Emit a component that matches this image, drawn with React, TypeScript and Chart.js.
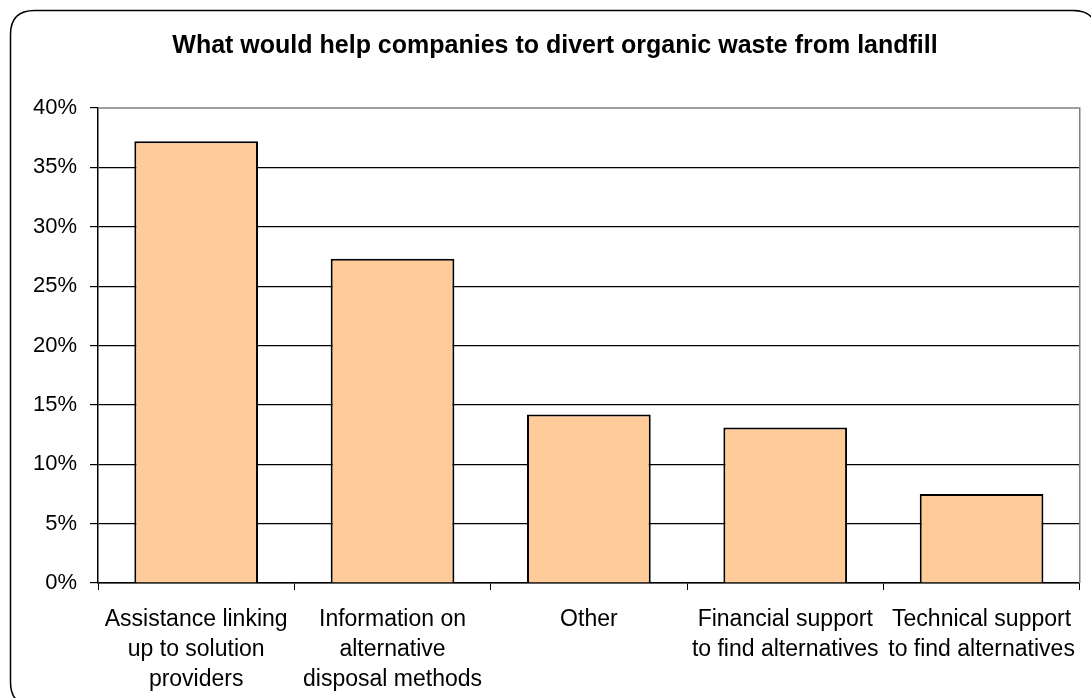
import React, { useEffect, useRef } from "react";
import { Chart, registerables } from "chart.js";

Chart.register(...registerables);

const TITLE = "What would help companies to divert organic waste from landfill";
const CATEGORIES: string[][] = [
  ["Assistance linking", "up to solution", "providers"],
  ["Information on", "alternative", "disposal methods"],
  ["Other"],
  ["Financial support", "to find alternatives"],
  ["Technical support", "to find alternatives"],
];
const VALUES: number[] = [37.2, 27.3, 14.2, 13.1, 7.5];
const Y_MIN = 0;
const Y_MAX = 40;
const Y_STEP = 5;

const FONT = "'Liberation Sans', Arial, Helvetica, sans-serif";

const framePlugin = {
  id: "frame",
  beforeDraw(chart: any) {
    const { ctx, width, height } = chart;
    ctx.save();
    ctx.fillStyle = "#ffffff";
    ctx.fillRect(0, 0, width, height);
    const x = 10.5, y = 10.5, w = width + 6 - x, h = height + 8 - y, r = 24;
    ctx.beginPath();
    ctx.moveTo(x + r, y);
    ctx.lineTo(x + w - r, y);
    ctx.quadraticCurveTo(x + w, y, x + w, y + r);
    ctx.lineTo(x + w, y + h - r);
    ctx.quadraticCurveTo(x + w, y + h, x + w - r, y + h);
    ctx.lineTo(x + r, y + h);
    ctx.quadraticCurveTo(x, y + h, x, y + h - r);
    ctx.lineTo(x, y + r);
    ctx.quadraticCurveTo(x, y, x + r, y);
    ctx.closePath();
    ctx.lineWidth = 1.5;
    ctx.strokeStyle = "#000000";
    ctx.stroke();
    ctx.restore();
  },
  beforeDatasetsDraw(chart: any) {
    const { ctx, chartArea } = chart;
    ctx.save();
    ctx.strokeStyle = "#808080";
    ctx.lineWidth = 1.5;
    ctx.beginPath();
    ctx.moveTo(chartArea.left, chartArea.top);
    ctx.lineTo(chartArea.right, chartArea.top);
    ctx.lineTo(chartArea.right, chartArea.bottom);
    ctx.stroke();
    ctx.restore();
  },
  afterDraw(chart: any) {
    const { ctx } = chart;
    ctx.save();
    ctx.fillStyle = "#000000";
    ctx.font = `bold 25px ${FONT}`;
    ctx.textAlign = "center";
    ctx.textBaseline = "middle";
    ctx.fillText(TITLE, 555, 46);
    ctx.restore();
  },
};

export default function App() {
  const ref = useRef<HTMLCanvasElement | null>(null);
  useEffect(() => {
    if (!ref.current) return;
    const chart = new Chart(ref.current, {
      type: "bar",
      data: {
        labels: CATEGORIES,
        datasets: [
          {
            data: VALUES,
            backgroundColor: "#FFCC99",
            borderColor: "#000000",
            borderWidth: 2,
            barPercentage: 0.63,
            categoryPercentage: 1,
          },
        ],
      },
      options: {
        animation: false,
        responsive: false,
        maintainAspectRatio: false,
        layout: { padding: { left: 0, right: 11, top: 108, bottom: 0 } },
        plugins: {
          legend: { display: false },
          tooltip: { enabled: false },
          title: { display: false },
        },
        scales: {
          x: {
            grid: {
              display: true,
              drawOnChartArea: false,
              drawTicks: true,
              tickLength: 7,
              color: "#000000",
              offset: true,
            },
            border: { display: true, color: "#000000", width: 1.5 },
            ticks: {
              color: "#000000",
              font: { family: FONT, size: 23, lineHeight: 1.304 },
              padding: 15,
              maxRotation: 0,
              autoSkip: false,
            },
            afterFit(scale: any) {
              scale.height = 115;
            },
          },
          y: {
            min: Y_MIN,
            max: Y_MAX,
            grid: {
              color: (c: any) => (c.tick && c.tick.value === Y_MAX ? "rgba(0,0,0,0)" : "#000000"),
              lineWidth: 1.2,
              drawTicks: true,
              tickLength: 8,
              tickColor: "#000000",
            },
            border: { display: true, color: "#000000", width: 1.5 },
            ticks: {
              stepSize: Y_STEP,
              color: "#000000",
              font: { family: FONT, size: 22 },
              padding: 13,
              callback: (v: any) => v + "%",
            },
            afterFit(scale: any) {
              scale.width = 98;
            },
          },
        },
      },
      plugins: [framePlugin],
    });
    return () => chart.destroy();
  }, []);
  return (
    <div style={{ position: "fixed", left: 0, top: 0, width: 1091, height: 698, background: "#fff" }}>
      <canvas ref={ref} width={1091} height={698} style={{ width: 1091, height: 698, display: "block" }} />
    </div>
  );
}
